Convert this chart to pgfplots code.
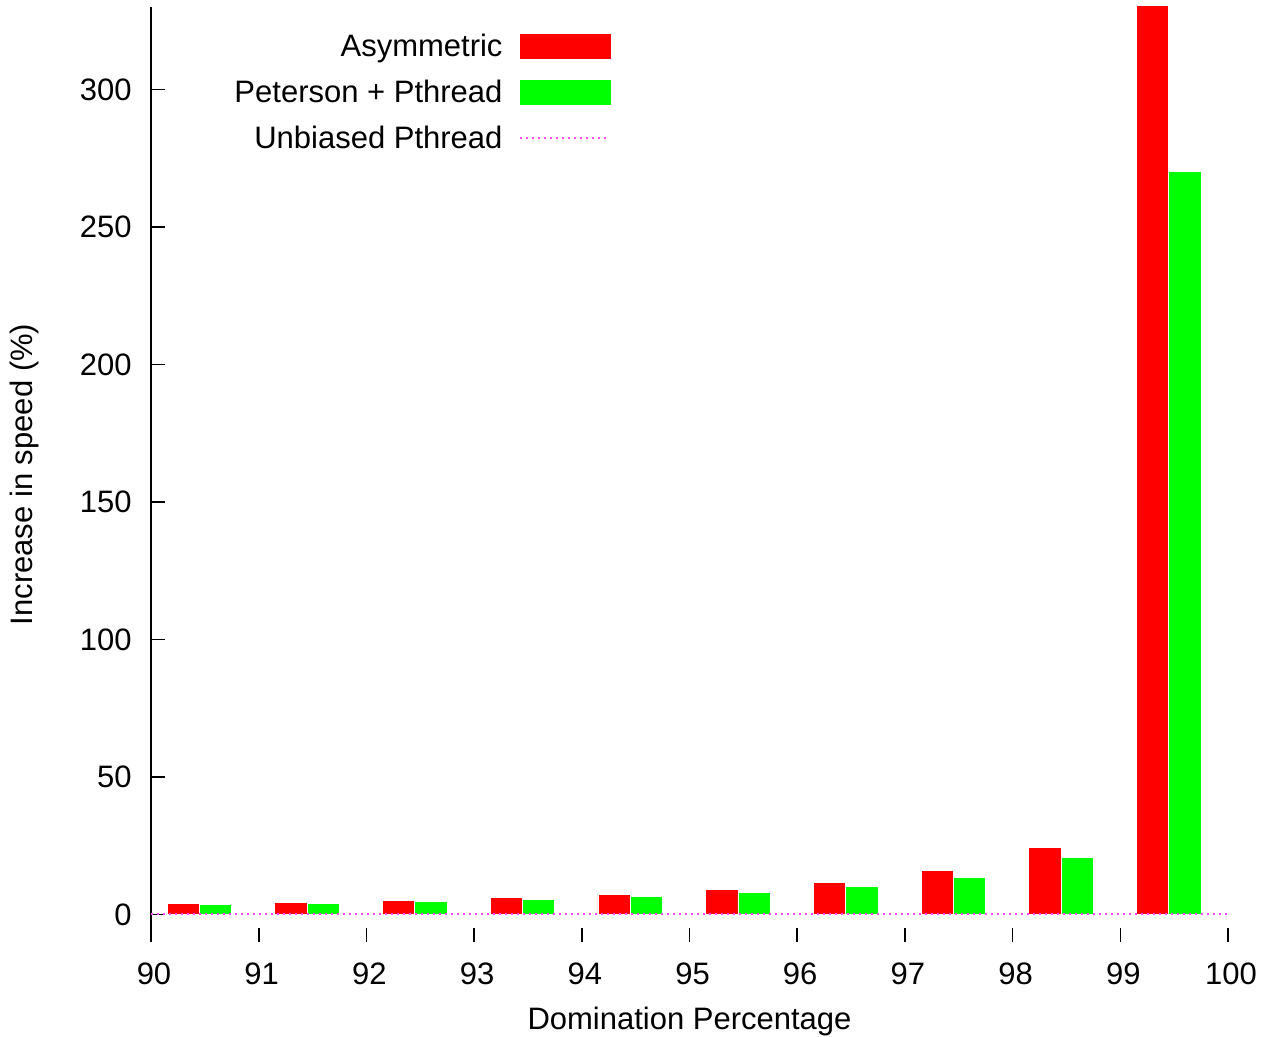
\documentclass[border=0pt]{standalone}
\usepackage{fontspec}
\setmainfont{Liberation Sans}
\usepackage{pgfplots}
\pgfplotsset{compat=1.18}
\definecolor{mag}{RGB}{255,70,255}
\definecolor{gr}{RGB}{0,255,0}
\definecolor{rd}{RGB}{255,0,0}
\begin{document}
\begin{tikzpicture}[font=\fontsize{15.5}{18}\selectfont]
\begin{axis}[
 scale only axis, width=538.5pt, height=467.5pt,
 xmin=90, xmax=100, ymin=-10, ymax=330,
 axis x line*=bottom, axis y line*=left,
 x axis line style={draw=none},
 y axis line style={line width=1pt},
 xtick={90,91,...,100}, ytick={0,50,...,300},
 tick align=inside, major tick length=7pt,
 every tick/.style={black, line width=0.8pt},
 /pgf/number format/assume math mode=true,
 xticklabel style={inner sep=0pt, yshift=-10pt, xshift=1.5pt},
 yticklabel style={inner sep=0pt, xshift=-9.5pt},
 xlabel={Domination Percentage}, ylabel={Increase in speed (\%)},
 every axis x label/.style={at={(axis description cs:0.5,-0.0941)}, anchor=base},
 every axis y label/.style={at={(axis description cs:-0.117,0.5)}, rotate=90, anchor=center},
 legend plot pos=right, legend cell align=right,
 legend style={draw=none, fill=none, at={(axis description cs:0.427,0.972)}, anchor=north east, inner sep=0pt, nodes={inner sep=0pt}, column sep=8.3pt, row sep=10.3pt},
]
\addplot[ybar, bar width=0.3, bar shift=0.3, fill=rd, draw=white, line width=0.4pt,
 legend image code/.code={\fill[rd] (0pt,-6pt) rectangle (45pt,6pt);}]
 coordinates {(90,4.1) (91,4.5) (92,5.2) (93,6.2) (94,7.3) (95,9.1) (96,11.6) (97,16.0) (98,24.4) (99,345)};
\addlegendentry{Asymmetric}
\addplot[ybar, bar width=0.3, bar shift=0.6, fill=gr, draw=white, line width=0.4pt,
 legend image code/.code={\fill[gr] (0pt,-6pt) rectangle (45pt,6pt);}]
 coordinates {(90,3.7) (91,4.1) (92,4.8) (93,5.5) (94,6.6) (95,8.0) (96,10.2) (97,13.5) (98,20.7) (99,270.1)};
\addlegendentry{Peterson + Pthread}
\addplot[mag, dotted, line width=1pt,
 legend image code/.code={\draw[mag, dotted, line width=1pt] (0pt,0pt) -- (43pt,0pt);}]
 coordinates {(90,0) (100,0)};
\addlegendentry{Unbiased Pthread}
\coordinate (A) at (rel axis cs:0,0);
\coordinate (B) at (rel axis cs:1,1);
\end{axis}
\pgfresetboundingbox
\path ([shift={(-75.5pt,-47.5pt)}]A) rectangle ([shift={(17pt,3.5pt)}]B);
\end{tikzpicture}
\end{document}
